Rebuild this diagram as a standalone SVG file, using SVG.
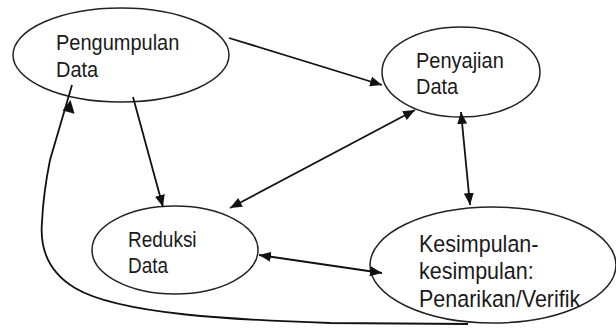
<svg xmlns="http://www.w3.org/2000/svg" width="616" height="329" viewBox="0 0 616 329">
<style>
.n{fill:#fff;stroke:#222;stroke-width:1.5}
.t{font-family:"Liberation Sans",Arial,sans-serif;font-size:20px;fill:#1a1a1a}
.k{font-size:21.5px}
.c{fill:none;stroke:#111;stroke-width:1.8}
</style>
<defs>
<marker id="ah" viewBox="0 0 12 10" refX="12" refY="5" markerWidth="12" markerHeight="10" markerUnits="userSpaceOnUse" orient="auto-start-reverse">
<path d="M0,0 L12,5 L0,10 z" fill="#111"/>
</marker>
</defs>
<rect width="616" height="329" fill="#fff"/>
<g id="pengumpulan">
<ellipse class="n" cx="121" cy="55" rx="108" ry="47"/>
<text class="t" transform="translate(56,50) scale(1,1.12)">Pengumpulan</text>
<text class="t" transform="translate(56,77) scale(1,1.12)">Data</text>
</g>
<g id="penyajian">
<ellipse class="n" cx="461" cy="72" rx="79" ry="45"/>
<text class="t" transform="translate(416,68) scale(1,1.12)">Penyajian</text>
<text class="t" transform="translate(416,94) scale(1,1.12)">Data</text>
</g>
<g id="reduksi">
<ellipse class="n" cx="175" cy="250" rx="83" ry="44"/>
<text class="t" transform="translate(128,247) scale(1,1.12)" style="font-size:19px">Reduksi</text>
<text class="t" transform="translate(128,273) scale(1,1.12)" style="font-size:19px">Data</text>
</g>
<g id="kesimpulan">
<ellipse class="n" cx="493" cy="265" rx="123" ry="58"/>
<text class="t k" transform="translate(419,252) scale(1,1.1)">Kesimpulan-</text>
<text class="t k" transform="translate(419,279) scale(1,1.1)">kesimpulan:</text>
<text class="t k" transform="translate(419,307) scale(1,1.1)">Penarikan/Verifik</text>
</g>
<g id="connectors">
<line class="c" x1="229" y1="38" x2="382" y2="85" marker-end="url(#ah)"/>
<line class="c" x1="133" y1="97" x2="163" y2="207" marker-end="url(#ah)"/>
<line class="c" x1="230" y1="208" x2="415" y2="110" marker-start="url(#ah)" marker-end="url(#ah)"/>
<line class="c" x1="461" y1="112" x2="470" y2="205" marker-start="url(#ah)" marker-end="url(#ah)"/>
<line class="c" x1="259" y1="255" x2="382" y2="273" marker-start="url(#ah)" marker-end="url(#ah)"/>
<path class="c" d="M468,324 L330,323 C240,320 120,315 75,288 C45,270 40,245 42,222 C43,200 46,180 50,160 L72,85"/>
<polygon points="70.5,100 74.6,113.8 62.6,110.4" fill="#111"/>
</g>
</svg>
